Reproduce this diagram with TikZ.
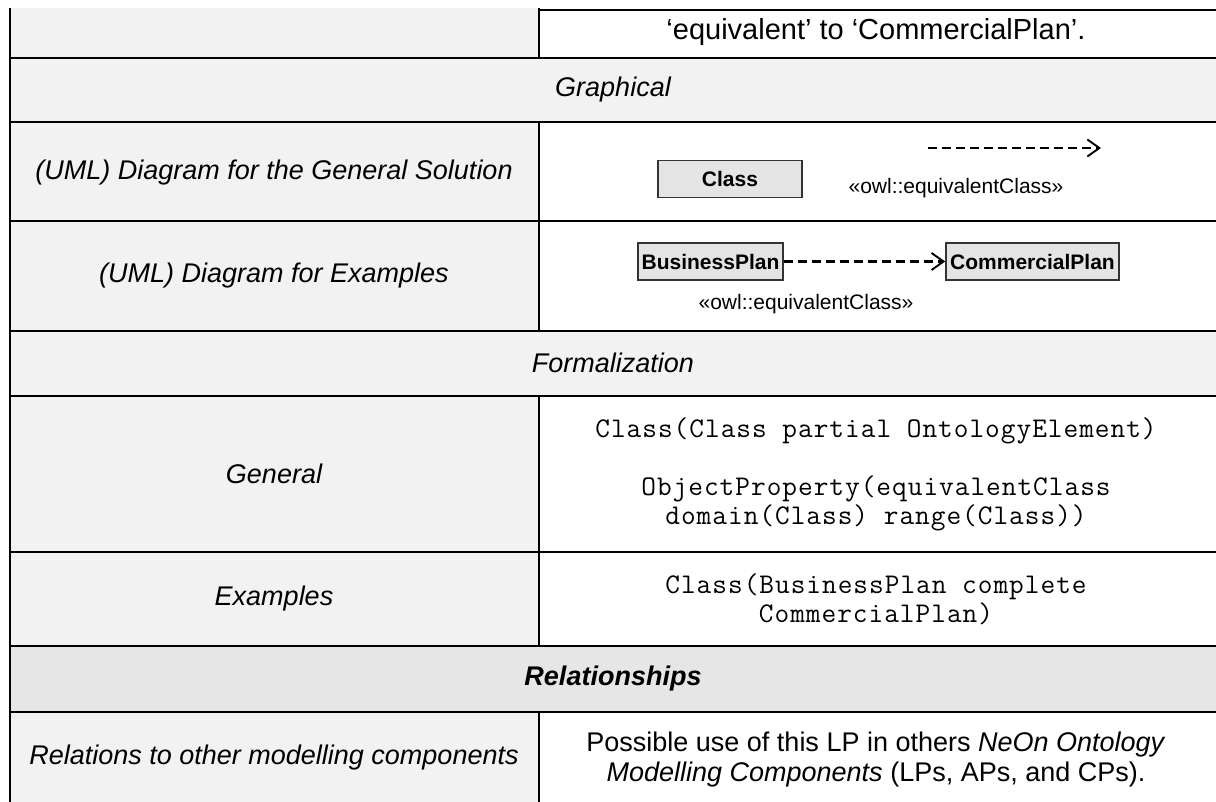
\documentclass[tikz,border=0pt]{standalone}
\usepackage{fontspec}
\setmainfont{Liberation Sans}
\newfontfamily\codefont{Latin Modern Mono}[LetterSpace=3.5]
\usetikzlibrary{arrows.meta}
\definecolor{cellgray}{HTML}{F2F2F2}
\definecolor{bandgray}{HTML}{E6E6E6}
\definecolor{umlfill}{HTML}{E4E4E4}
\definecolor{umlline}{HTML}{333333}
\begin{document}
\begin{tikzpicture}[x=1pt,y=-1pt,
  rule/.style={line width=2.4pt},
  thinrule/.style={line width=1.8pt},
  labeltext/.style={inner sep=0pt, font=\fontsize{27}{31}\selectfont\itshape},
  celltext/.style={inner sep=0pt, align=center, font=\fontsize{27}{30}\selectfont},
  codetext/.style={inner sep=0pt, align=center, font=\fontsize{28.5}{29}\selectfont\codefont},
  bandtext/.style={inner sep=0pt, font=\fontsize{27}{31}\selectfont\itshape},
  umlclass/.style={draw=umlline, fill=umlfill, line width=1.6pt, inner sep=0pt,
    minimum height=37pt, font=\fontsize{21}{24}\selectfont\bfseries},
  stereo/.style={inner sep=0pt, font=\fontsize{21}{24}\selectfont},
  equiv/.style={line width=2.3pt, dash pattern=on 9pt off 5pt,
    -{Straight Barb[length=12pt,width=17pt,line width=1.9pt]}}]
\useasboundingbox (0,0) rectangle (1216,802);

% cell backgrounds
\fill[cellgray] (10,8) rectangle (539,802);
\fill[cellgray] (10,58) rectangle (1216,122);
\fill[cellgray] (10,331) rectangle (1216,396);
\fill[bandgray] (10,646) rectangle (1216,712);

% table rules
\draw[rule] (10,8) -- (10,802);
\draw[rule] (539,8) -- (539,58);
\draw[rule] (539,122) -- (539,331);
\draw[rule] (539,396) -- (539,646);
\draw[rule] (539,712) -- (539,802);
\draw[rule] (539,10) -- (1216,10);
\foreach \yy in {58,122,221,331,396,552}
  \draw[rule] (10,\yy) -- (1216,\yy);
\foreach \yy in {646,712}
  \draw[thinrule] (10,\yy) -- (1216,\yy);

% first row (continued from above)
\node[celltext, font=\fontsize{29}{33}\selectfont] (eqtext) at (876,32) {‘equivalent’ to ‘CommercialPlan’.};

% section bands
\node[bandtext] (graphical) at (613,90) {Graphical};
\node[bandtext] (formal) at (613,363) {Formalization};
\node[bandtext, font=\fontsize{27}{31}\selectfont\bfseries\itshape] (relships) at (613,679) {Relationships};

% left column labels
\node[labeltext] (lgen) at (274,173) {(UML) Diagram for the General Solution};
\node[labeltext] (lex) at (274,276) {(UML) Diagram for Examples};
\node[labeltext] (lgeneral) at (274,474) {General};
\node[labeltext] (lexamples) at (274,599) {Examples};
\node[labeltext] (lrel) at (274,758) {Relations to other modelling components};

% UML diagram for the general solution
\node[umlclass, minimum width=144pt] (cls) at (730,179) {Class};
\coordinate (gs) at (928,148);
\coordinate (ge) at (1101,148);
\draw[equiv] (gs) -- (ge);
\node[stereo] (st1) at (956,188) {«owl::equivalentClass»};

% UML diagram for the examples
\node[umlclass, minimum width=145pt] (bp) at (710.5,261.5) {BusinessPlan};
\node[umlclass, minimum width=173pt] (cp) at (1032.5,261.5) {CommercialPlan};
\draw[equiv] (bp.east) -- (cp.west);
\node[stereo] (st2) at (806,304) {«owl::equivalentClass»};

% formalization
\node[codetext] (fgen) at (876,474) {Class(Class partial OntologyElement)\\[29pt]
  ObjectProperty(equivalentClass\\ domain(Class) range(Class))};
\node[codetext] (fex) at (876,599) {Class(BusinessPlan complete\\ CommercialPlan)};

% relationships
\node[celltext] (rtext) at (876,760) {Possible use of this LP in others \textit{NeOn Ontology}\\
  \textit{Modelling Components} (LPs, APs, and CPs).};
\end{tikzpicture}
\end{document}
